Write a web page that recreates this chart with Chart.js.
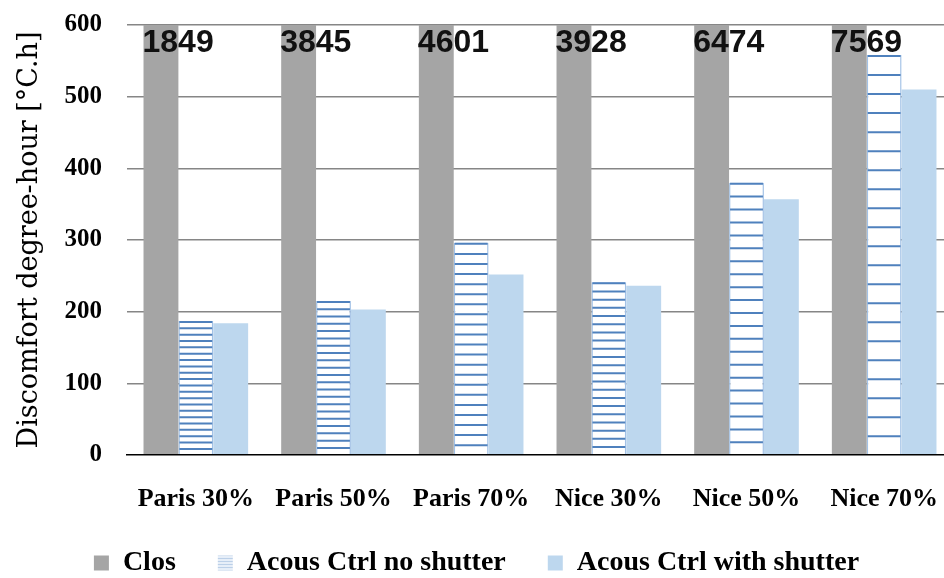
<!DOCTYPE html>
<html>
<head>
<meta charset="utf-8">
<script src="https://cdn.jsdelivr.net/npm/chart.js@4.4.0/dist/chart.umd.min.js"></script>
<style>
  html, body { margin: 0; padding: 0; background: #fff; overflow: hidden; }
  #wrap { width: 960px; height: 578px; }
</style>
</head>
<body>
<div id="wrap"><canvas id="chart"></canvas></div>
<script>
const categories = ['Paris 30%', 'Paris 50%', 'Paris 70%', 'Nice 30%', 'Nice 50%', 'Nice 70%'];
const closValues = [1849, 3845, 4601, 3928, 6474, 7569];
const noShutterValues = [187, 215, 296, 241, 380, 558];
const withShutterValues = [184, 203, 252, 236, 357, 510];
const seriesNames = ['Clos', 'Acous Ctrl no shutter', 'Acous Ctrl with shutter'];

const serif = '"Liberation Serif", "Times New Roman", serif';

// pale striped square for the legend marker
function legendPattern() {
  const c = document.createElement('canvas');
  c.width = 4; c.height = 3;
  const g = c.getContext('2d');
  g.fillStyle = '#e6eef8';
  g.fillRect(0, 0, 4, 3);
  g.fillStyle = '#bcd0e8';
  g.fillRect(0, 0, 4, 1);
  return g.createPattern(c, 'repeat');
}

// horizontal stripes inside the "no shutter" bars
const stripePlugin = {
  id: 'stripes',
  afterDatasetsDraw(chart) {
    const meta = chart.getDatasetMeta(1);
    const ctx = chart.ctx;
    const n = 21;
    ctx.save();
    ctx.strokeStyle = '#4f81bd';
    ctx.lineWidth = 2;
    meta.data.forEach(bar => {
      const left = bar.x - bar.width / 2 + 1;
      const right = bar.x + bar.width / 2 - 1;
      const step = (bar.base - bar.y) / n;
      for (let k = 0; k < n; k++) {
        const y = bar.y + 1 + k * step;
        ctx.beginPath();
        ctx.moveTo(left, y);
        ctx.lineTo(right, y);
        ctx.stroke();
      }
    });
    ctx.restore();
  }
};

// value labels for the clipped Clos bars
const closLabelPlugin = {
  id: 'closLabels',
  afterDatasetsDraw(chart) {
    const meta = chart.getDatasetMeta(0);
    const ctx = chart.ctx;
    ctx.save();
    ctx.font = 'bold 32px "Liberation Sans", Arial, sans-serif';
    ctx.fillStyle = '#111';
    ctx.textAlign = 'left';
    ctx.textBaseline = 'alphabetic';
    meta.data.forEach((bar, i) => {
      ctx.fillText(String(closValues[i]), bar.x - bar.width / 2 - 1, chart.chartArea.top + 27);
    });
    ctx.restore();
  }
};

const ctx = document.getElementById('chart').getContext('2d');
const legendFill = legendPattern();

new Chart(ctx, {
  type: 'bar',
  data: {
    labels: categories,
    datasets: [
      {
        label: seriesNames[0],
        data: closValues,
        backgroundColor: '#a5a5a5',
        borderWidth: 0
      },
      {
        label: seriesNames[1],
        data: noShutterValues,
        backgroundColor: '#ffffff',
        borderColor: '#a3c2e6',
        borderWidth: 1.5
      },
      {
        label: seriesNames[2],
        data: withShutterValues,
        backgroundColor: '#bdd7ee',
        borderWidth: 0
      }
    ]
  },
  options: {
    responsive: true,
    maintainAspectRatio: false,
    animation: false,
    datasets: {
      bar: { categoryPercentage: 0.76, barPercentage: 1.0 }
    },
    layout: {
      padding: { top: 25, right: 7, bottom: -9, left: 0 }
    },
    plugins: {
      tooltip: { enabled: false },
      legend: {
        position: 'bottom',
        labels: {
          boxWidth: 15,
          boxHeight: 15,
          padding: 42,
          color: '#000',
          font: { family: serif, size: 28, weight: 'bold' },
          generateLabels(chart) {
            const fills = ['#a5a5a5', legendFill, '#bdd7ee'];
            return chart.data.datasets.map((ds, i) => ({
              text: ds.label,
              fillStyle: fills[i],
              strokeStyle: 'rgba(0,0,0,0)',
              lineWidth: 0,
              hidden: false,
              datasetIndex: i
            }));
          }
        }
      }
    },
    scales: {
      x: {
        grid: { display: false, drawTicks: false },
        border: { display: true, color: '#000', width: 1.5, z: 1 },
        ticks: {
          color: '#000',
          padding: 29,
          maxRotation: 0,
          autoSkip: false,
          font: { family: serif, size: 26, weight: 'bold' }
        },
        afterFit(scale) {
          scale.height = 52;
          scale.paddingLeft = 0;
          scale.paddingRight = 0;
        }
      },
      y: {
        min: 0,
        max: 600,
        grid: {
          color: c => c.tick.value === 0 ? 'rgba(0,0,0,0)' : '#868686',
          lineWidth: 1.5,
          drawTicks: false
        },
        border: { display: false },
        ticks: {
          stepSize: 100,
          color: '#000',
          padding: 25,
          font: { family: serif, size: 25, weight: 'bold' }
        },
        title: {
          display: true,
          text: 'Discomfort degree-hour [°C.h]',
          color: '#000',
          padding: { top: 14, bottom: 0 },
          font: { family: '"DejaVu Serif", serif', size: 27, weight: 'normal' }
        },
        afterFit(scale) {
          scale.width = 127;
          scale.paddingTop = 0;
          scale.paddingBottom = 0;
        }
      }
    }
  },
  plugins: [stripePlugin, closLabelPlugin]
});
</script>
</body>
</html>
